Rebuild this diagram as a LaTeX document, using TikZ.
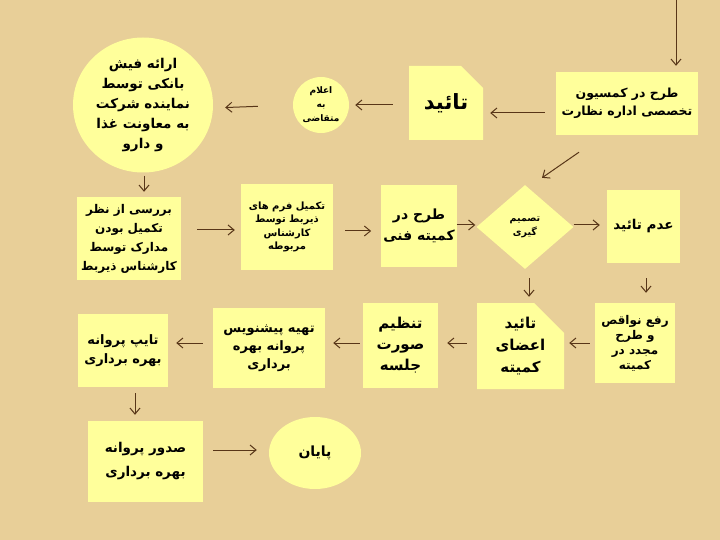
\documentclass[tikz,border=0pt]{standalone}
\usepackage{fontspec}
\usetikzlibrary{shapes.geometric,arrows.meta}
\newfontfamily\persianfont[Script=Arabic]{DejaVu Sans}
\TeXXeTstate=1
\newcommand{\rline}[1]{\beginR #1\endR}
\definecolor{paper}{RGB}{232,207,152}
\definecolor{boxc}{RGB}{255,255,155}
\definecolor{arrowc}{RGB}{88,54,24}
\tikzset{
  box/.style={rectangle,fill=boxc,inner sep=2pt,align=center},
  bubble/.style={ellipse,fill=boxc,inner sep=0pt,align=center},
  choice/.style={diamond,fill=boxc,inner sep=0pt,align=center},
  snipbox/.style={rectangle,inner sep=0pt,align=center,
    path picture={\fill[boxc] (path picture bounding box.south west)
      -- (path picture bounding box.south east)
      -- ([yshift=-#1]path picture bounding box.north east)
      -- ([xshift=-#1]path picture bounding box.north east)
      -- (path picture bounding box.north west) -- cycle;}},
  flow/.style={draw=arrowc,line width=1pt,-{Straight Barb[length=6pt,width=10pt]}},
  fs/.style 2 args={font=\persianfont\bfseries\fontsize{#1}{#2}\selectfont}
}
\begin{document}
\begin{tikzpicture}[x=1pt,y=-1pt]
  \fill[paper](0,0)rectangle(720,540);
  \useasboundingbox(0,0)rectangle(720,540);
  % top row
  \node[box,fs={12.5}{18},minimum width=142pt,minimum height=63pt](commission)at(627,103.5)
    {\rline{طرح در کمسیون}\\\rline{تخصصی اداره نظارت}};
  \node[snipbox=22pt,fs={21}{24},minimum width=74pt,minimum height=74pt](tayid)at(446,103)
    {\rline{تائید}};
  \node[bubble,fs={9}{14},minimum width=56pt,minimum height=56pt](notify)at(321,105)
    {\rline{اعلام}\\\rline{به}\\\rline{متقاضی}};
  \node[bubble,fs={13.5}{20},minimum width=140pt,minimum height=135pt](fiche)at(143,105)
    {\rline{ارائه فیش}\\\rline{بانکی توسط}\\\rline{نماینده شرکت}\\\rline{به معاونت غذا}\\\rline{و دارو}};
  % middle row
  \node[box,fs={12}{19},minimum width=104pt,minimum height=83pt](check)at(129,238.5)
    {\rline{بررسی از نظر}\\\rline{تکمیل بودن}\\\rline{مدارک توسط}\\\rline{کارشناس ذیربط}};
  \node[box,fs={10}{13.5},minimum width=92pt,minimum height=86pt](forms)at(287,227)
    {\rline{تکمیل فرم های}\\\rline{ذیربط توسط}\\\rline{کارشناس}\\\rline{مربوطه}};
  \node[box,fs={14}{21},minimum width=74pt,minimum height=82pt](committee)at(419,226)
    {\rline{طرح در}\\\rline{کمیته فنی}};
  \node[choice,fs={9.5}{14},minimum width=97pt,minimum height=84pt](decide)at(525,227)
    {\rline{تصمیم}\\\rline{گیری}};
  \node[box,fs={13.5}{18},minimum width=73pt,minimum height=73pt](reject)at(643.5,226.5)
    {\rline{عدم تائید}};
  % lower row
  \node[box,fs={12}{15},minimum width=80pt,minimum height=80pt](fix)at(635,343)
    {\rline{رفع نواقص}\\\rline{و طرح}\\\rline{مجدد در}\\\rline{کمیته}};
  \node[snipbox=30pt,fs={15}{22},minimum width=87pt,minimum height=86pt](members)at(520.5,346)
    {\rline{تائید}\\\rline{اعضای}\\\rline{کمیته}};
  \node[box,fs={15}{21},minimum width=75pt,minimum height=85pt](minutes)at(400.5,345.5)
    {\rline{تنظیم}\\\rline{صورت}\\\rline{جلسه}};
  \node[box,fs={13}{18},minimum width=112pt,minimum height=80pt](draft)at(269,348)
    {\rline{تهیه پیشنویس}\\\rline{پروانه بهره}\\\rline{برداری}};
  \node[box,fs={13}{19},minimum width=90pt,minimum height=73pt](typing)at(123,350.5)
    {\rline{تایپ پروانه}\\\rline{بهره برداری}};
  % bottom row
  \node[box,fs={13.5}{24},minimum width=115pt,minimum height=81pt](issue)at(145.5,461.5)
    {\rline{صدور پروانه}\\\rline{بهره برداری}};
  \node[bubble,fs={14}{18},minimum width=92pt,minimum height=72pt](finish)at(315,453)
    {\rline{پایان}};
  % connectors
  \coordinate(start)at(676,0);
  \draw[flow,shorten >=6pt](start)--(start|-commission.north);
  \draw[flow,shorten <=11pt,shorten >=7pt]([yshift=-9.5pt]commission.west)--([yshift=-9.5pt]commission.west-|tayid.east);
  \draw[flow,shorten <=16pt,shorten >=6pt]([yshift=-2pt]tayid.west)--(notify.east);
  \draw[flow,shorten <=35pt,shorten >=12pt](notify.west)--([yshift=-3pt]notify.west-|fiche.east);
  \draw[flow,shorten <=3pt,shorten >=5pt]([xshift=1pt]fiche.south)--([xshift=1pt]fiche.south|-check.north);
  \draw[flow,shorten <=16pt,shorten >=6pt]([yshift=-3pt]forms.west-|check.east)--([yshift=-3pt]forms.west);
  \draw[flow,shorten <=12pt,shorten >=10pt]([yshift=-4pt]forms.east)--([yshift=-4pt]forms.east-|committee.west);
  \draw[flow,shorten >=1pt]([yshift=1pt]committee.east)--([yshift=1pt]committee.east-|decide.west);
  \draw[flow,shorten >=7pt]([yshift=2pt]decide.east)--([yshift=2pt]decide.east-|reject.west);
  \draw[flow]([xshift=-48pt,yshift=-17pt]commission.south)--([xshift=17pt,yshift=7pt]decide.north);
  \draw[flow,shorten <=9pt,shorten >=6pt]([xshift=4pt]decide.south)--([xshift=4pt]decide.south|-members.north);
  \draw[flow,shorten <=15pt,shorten >=10pt]([xshift=2.5pt]reject.south)--([xshift=2.5pt]reject.south|-fix.north);
  \draw[flow,shorten <=5pt,shorten >=5pt](fix.west)--(fix.west-|members.east);
  \draw[flow,shorten <=10pt,shorten >=9pt]([yshift=3pt]members.west)--([yshift=3pt]members.west-|minutes.east);
  \draw[flow,shorten <=3pt,shorten >=8pt]([yshift=2.5pt]minutes.west)--([yshift=2.5pt]minutes.west-|draft.east);
  \draw[flow,shorten <=10pt,shorten >=8pt]([yshift=5pt]draft.west)--([yshift=5pt]draft.west-|typing.east);
  \draw[flow,shorten <=6pt,shorten >=6pt]([xshift=12pt]typing.south)--([xshift=12pt]typing.south|-issue.north);
  \draw[flow,shorten <=10pt,shorten >=12pt]([yshift=11.5pt]issue.east)--([yshift=11.5pt]issue.east-|finish.west);
\end{tikzpicture}
\end{document}
